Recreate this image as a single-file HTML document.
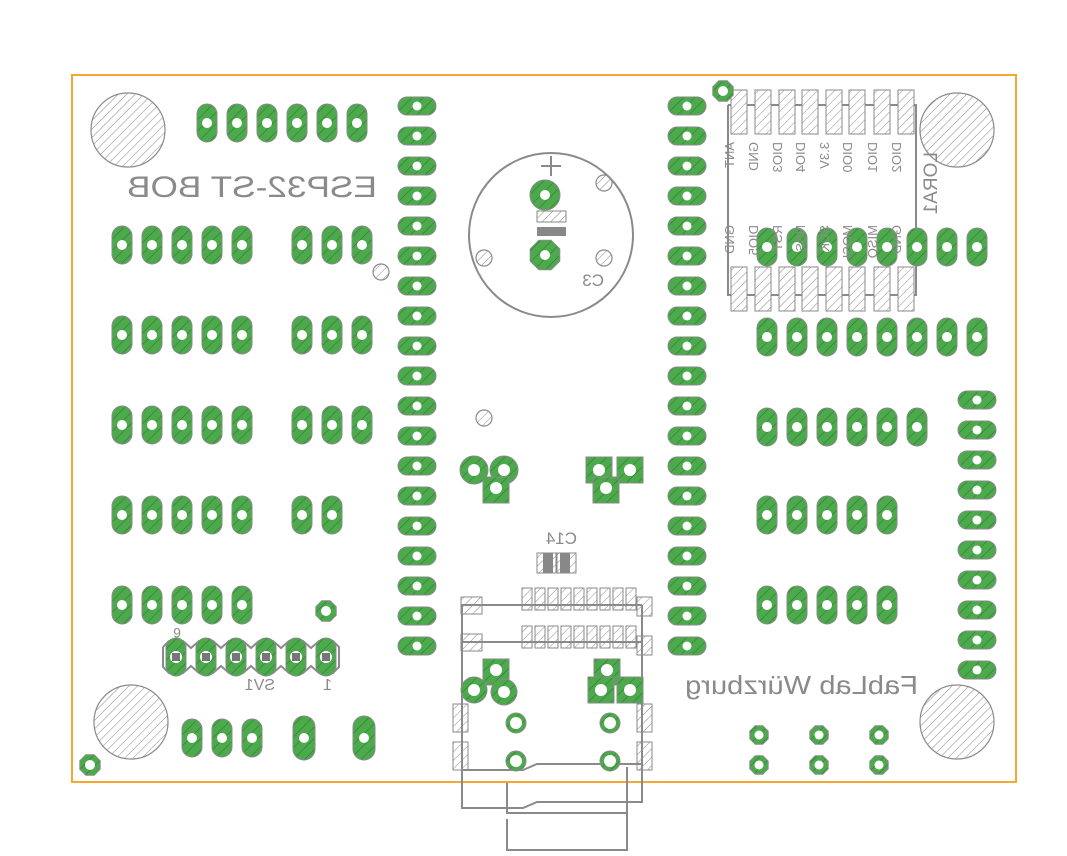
<!DOCTYPE html>
<html><head><meta charset="utf-8"><style>
html,body{margin:0;padding:0;background:#fff;width:1067px;height:856px;overflow:hidden}
svg{display:block}
text{font-family:"Liberation Sans",sans-serif;fill:#8a8a8a}
</style></head><body>
<svg id="s" width="1067" height="856" viewBox="0 0 1067 856" xmlns="http://www.w3.org/2000/svg">
<defs>
<pattern id="gh" patternUnits="userSpaceOnUse" width="8" height="8" patternTransform="rotate(45)">
<rect width="8" height="8" fill="#4caa4c"/><line x1="0" y1="0" x2="0" y2="8" stroke="#2f7a30" stroke-width="1.2"/>
</pattern>
<pattern id="wh" patternUnits="userSpaceOnUse" width="6" height="6" patternTransform="rotate(45)">
<rect width="6" height="6" fill="#fff"/><line x1="0" y1="0" x2="0" y2="6" stroke="#8a8a8a" stroke-width="1"/>
</pattern>
</defs>
<rect x="72" y="75" width="944" height="707" fill="none" stroke="#f5a830" stroke-width="2"/>
<g id="g"></g>
<!-- texts -->
<text transform="translate(377,197) scale(-1,1)" font-size="30" textLength="250" lengthAdjust="spacingAndGlyphs">ESP32-ST BOB</text>
<text transform="translate(918,694) scale(-1,1)" font-size="26" textLength="233" lengthAdjust="spacingAndGlyphs">FabLab Würzburg</text>
<text transform="translate(604,286) scale(-1,1)" font-size="17">C3</text>
<text transform="translate(577,544) scale(-1,1)" font-size="17">C14</text>
<text transform="translate(275,690) scale(-1,1)" font-size="16">SV1</text>
<text transform="translate(332,690) scale(-1,1)" font-size="16">1</text>
<text transform="translate(181,628) scale(-1,-1)" font-size="14">6</text>
<text transform="translate(937,152) rotate(90) scale(1,-1)" font-size="19">LORA1</text>
<g font-size="13">
<text transform="translate(734,142) rotate(90) scale(1,-1)">ANT</text>
<text transform="translate(758,142) rotate(90) scale(1,-1)">GND</text>
<text transform="translate(782,142) rotate(90) scale(1,-1)">DIO3</text>
<text transform="translate(805,142) rotate(90) scale(1,-1)">DIO4</text>
<text transform="translate(829,142) rotate(90) scale(1,-1)">3.3V</text>
<text transform="translate(852,142) rotate(90) scale(1,-1)">DIO0</text>
<text transform="translate(877,142) rotate(90) scale(1,-1)">DIO1</text>
<text transform="translate(901,142) rotate(90) scale(1,-1)">DIO2</text>
<text transform="translate(734,225) rotate(90) scale(1,-1)">GND</text>
<text transform="translate(758,225) rotate(90) scale(1,-1)">DIO5</text>
<text transform="translate(782,225) rotate(90) scale(1,-1)">RST</text>
<text transform="translate(805,225) rotate(90) scale(1,-1)">NSS</text>
<text transform="translate(829,225) rotate(90) scale(1,-1)">SCK</text>
<text transform="translate(852,225) rotate(90) scale(1,-1)">MOSI</text>
<text transform="translate(877,225) rotate(90) scale(1,-1)">MISO</text>
<text transform="translate(901,225) rotate(90) scale(1,-1)">GND</text>
</g>
</svg>
<script>
var g=document.getElementById('g'),h='';
function hole(x,y,r){h+='<circle cx="'+x+'" cy="'+y+'" r="'+r+'" fill="url(#wh)" stroke="#8a8a8a" stroke-width="1.2"/>';}
function dr(x,y,r){h+='<circle cx="'+x+'" cy="'+y+'" r="'+(r||5)+'" fill="#fff"/>';}
function vp(x,y,w,hh){w=w||20;hh=hh||38;h+='<rect x="'+(x-w/2)+'" y="'+(y-hh/2)+'" width="'+w+'" height="'+hh+'" rx="'+w/2+'" fill="url(#gh)" stroke="#8a8a8a" stroke-width="1"/>';dr(x,y);}
function hp(x,y){h+='<rect x="'+(x-19)+'" y="'+(y-9)+'" width="38" height="18" rx="9" fill="url(#gh)" stroke="#8a8a8a" stroke-width="1"/>';dr(x,y,4.5);}
function oct(x,y,r,d){var p=[];for(var i=0;i<8;i++){var a=Math.PI/8+i*Math.PI/4;p.push((x+r*Math.cos(a)).toFixed(1)+','+(y+r*Math.sin(a)).toFixed(1));}h+='<polygon points="'+p.join(' ')+'" fill="url(#gh)" stroke="#8a8a8a" stroke-width="1"/>';dr(x,y,d||5);}
function sq(x,y,s){h+='<rect x="'+(x-s/2)+'" y="'+(y-s/2)+'" width="'+s+'" height="'+s+'" fill="url(#gh)" stroke="#8a8a8a" stroke-width="1"/>';}
function cp(x,y,r){h+='<circle cx="'+x+'" cy="'+y+'" r="'+r+'" fill="url(#gh)" stroke="#8a8a8a" stroke-width="1"/>';}
function hr(x,y,w,hh){h+='<rect x="'+x+'" y="'+y+'" width="'+w+'" height="'+hh+'" fill="url(#wh)" stroke="#8a8a8a" stroke-width="1"/>';}
function ln(pts){h+='<polyline points="'+pts+'" fill="none" stroke="#8a8a8a" stroke-width="2"/>';}
hole(128,130,37);hole(957,130,37);hole(131,722,37);hole(957,722,37);
hole(381,272,8);hole(484,418,8);hole(604,183,8);hole(604,258,8);hole(484,258,8);
h+='<circle cx="551" cy="235" r="82" fill="none" stroke="#8a8a8a" stroke-width="2"/>';
ln('541,166 561,166');ln('551,156 551,176');
[207,237,267,297,327,357].forEach(function(x){vp(x,123);});
[245,335,425,515,605].forEach(function(y){[122,152,182,212,242].forEach(function(x){vp(x,y);});});
[245,335,425].forEach(function(y){[302,332,362].forEach(function(x){vp(x,y);});});
[302,332].forEach(function(x){vp(x,515);});
for(var i=0;i<19;i++){hp(417,106+30*i);hp(687,106+30*i);}
for(var i=0;i<10;i++){hp(977,400+30*i);}
ln('728,105 916,105 916,295 728,295 728,105');
[739,763,787,810,834,857,882,906].forEach(function(x){hr(x-8,90,16,44);hr(x-8,267,16,44);});
[247,337].forEach(function(y){[767,797,827,857,887,917,947,977].forEach(function(x){vp(x,y);});});
[767,797,827,857,887,917].forEach(function(x){vp(x,427);});
[515,605].forEach(function(y){[767,797,827,857,887].forEach(function(x){vp(x,y);});});
oct(723,91,11);oct(90,765,11);oct(326,611,11);
[759,819,879].forEach(function(x){oct(x,735,10,4.5);oct(x,765,10,4.5);});
var xs=[176,206,236,266,296,326];
h+='<polyline points="163,647 169,641 183,641 191,648 199,641 213,641 221,648 229,641 243,641 251,648 259,641 273,641 281,648 289,641 303,641 311,648 319,641 333,641 339,647 339,667 333,673 319,673 311,666 303,673 289,673 281,666 273,673 259,673 251,666 243,673 229,673 221,666 213,673 199,673 191,666 183,673 169,673 163,667 163,647" fill="none" stroke="#8a8a8a" stroke-width="2"/>';
xs.forEach(function(x){h+='<rect x="'+(x-10)+'" y="638" width="20" height="38" rx="10" fill="url(#gh)" stroke="#8a8a8a" stroke-width="1"/><circle cx="'+x+'" cy="657" r="6" fill="#fff"/><rect x="'+(x-4)+'" y="653" width="8" height="8" fill="#777"/>';});
[192,222,252].forEach(function(x){vp(x,738);});
vp(304,738,22,44);vp(364,738,22,44);
cp(545,195,15);dr(545,195);
hr(537,211,29,11);h+='<rect x="537" y="227" width="29" height="9" fill="#888"/>';
oct(545,255,16);
cp(474,470,14);cp(504,470,14);sq(496,490,26);dr(474,470,6);dr(504,470,6);dr(496,488,6);
sq(599,470,26);sq(630,470,26);sq(606,490,26);dr(599,470,6);dr(630,470,6);dr(606,488,6);
hr(537,553,19,20);hr(557,553,19,20);h+='<rect x="543" y="553" width="10" height="20" fill="#888"/><rect x="560" y="553" width="10" height="20" fill="#888"/>';
for(var i=0;i<9;i++){var x=522+i*13;hr(x,588,10,22);hr(x,626,10,22);}
hr(461,597,21,17);hr(461,634,21,17);hr(637,597,15,19);hr(637,636,15,19);
hr(453,704,15,28);hr(453,742,15,28);hr(637,704,15,28);hr(637,742,15,28);
ln('461,605 642,605');ln('461,642 642,642');
ln('462,605 462,808 523,808 537,802 642,802 642,605');
ln('462,770 523,770 537,764 642,764');
ln('507,783 507,813 627,813 627,767');
ln('507,819 507,850 627,850 627,813');
sq(496,672,26);cp(474,690,13);cp(504,692,13);dr(496,670,6);dr(474,690,6);dr(504,692,6);
sq(607,672,26);sq(601,690,26);sq(630,690,26);dr(607,670,6);dr(601,690,6);dr(630,690,6);
[516,610].forEach(function(x){cp(x,723,10);dr(x,723,6);cp(x,761,10);dr(x,761,6);});
g.innerHTML=h;
</script>
</body></html>
